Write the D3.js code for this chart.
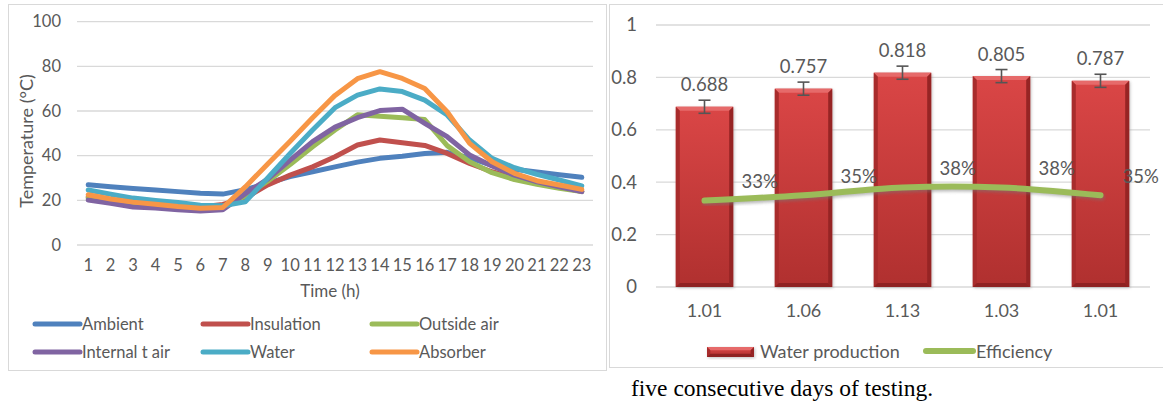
<!DOCTYPE html>
<html>
<head>
<meta charset="utf-8">
<script src="https://cdn.jsdelivr.net/npm/d3@7"></script>
<style>
  body { margin: 0; background: #fff; }
  svg { display: block; font-family: Lato, "Open Sans", sans-serif; }
</style>
</head>
<body>
<svg id="chart" width="1163" height="401"></svg>
<script>
// ---- left chart data: temperatures over the day
const hours = d3.range(1, 24);
const seriesNames = ["Ambient", "Insulation", "Outside air", "Internal t air", "Water", "Absorber"];
const seriesColors = ["#4F81BD", "#C0504D", "#9BBB59", "#8064A2", "#4BACC6", "#F79646"];
const ambient     = [27.0, 26.1, 25.3, 24.6, 23.9, 23.2, 22.8, 24.8, 27.7, 30.6, 32.8, 35.0, 37.1, 38.8, 39.7, 41.0, 41.5, 39.0, 35.6, 33.9, 32.7, 31.5, 30.3];
const insulation  = [21.5, 20.0, 18.8, 18.0, 17.4, 17.0, 18.2, 21.0, 26.9, 31.3, 35.0, 39.5, 44.8, 47.0, 45.8, 44.6, 41.0, 36.5, 32.8, 30.0, 27.8, 25.9, 24.0];
const outsideAir  = [21.0, 19.5, 18.0, 17.4, 16.6, 16.0, 16.6, 22.0, 28.6, 36.0, 44.0, 51.5, 58.3, 57.7, 57.0, 56.2, 44.5, 37.3, 32.4, 29.3, 27.2, 25.4, 23.9];
const internalAir = [20.1, 18.7, 17.0, 16.6, 15.8, 15.2, 15.8, 23.0, 29.5, 38.0, 46.3, 52.8, 57.0, 60.2, 60.8, 54.5, 48.5, 40.3, 35.4, 31.3, 28.3, 26.1, 23.9];
const water       = [24.6, 22.7, 21.0, 19.9, 19.0, 17.8, 17.6, 19.3, 30.0, 41.0, 51.5, 61.5, 67.1, 69.9, 68.7, 64.9, 58.2, 47.0, 38.8, 34.6, 31.6, 29.1, 26.5];
const absorber    = [22.5, 20.6, 19.2, 18.2, 17.2, 16.5, 16.8, 26.0, 36.3, 46.5, 57.0, 67.0, 74.5, 77.6, 74.6, 70.1, 59.7, 45.5, 37.3, 32.1, 28.8, 26.9, 24.9];
const tempSeries = [ambient, insulation, outsideAir, internalAir, water, absorber];
const tempTicks = [0, 20, 40, 60, 80, 100];

// ---- right chart data: water production per day
const dayLabels = ["1.01", "1.06", "1.13", "1.03", "1.01"];
const production = [0.688, 0.757, 0.818, 0.805, 0.787];
const productionErr = [0.025, 0.025, 0.025, 0.025, 0.025];
const efficiency = [0.33, 0.35, 0.38, 0.38, 0.35];
const prodTicks = [0, 0.2, 0.4, 0.6, 0.8, 1];

const svg = d3.select("#chart");
const defs = svg.append("defs");
const gridColor = "#D9D9D9", textColor = "#595959";

// chart frames
svg.append("rect").attr("x", 8.5).attr("y", 4.5).attr("width", 598).attr("height", 366)
  .attr("fill", "none").attr("stroke", "#D9D9D9");
svg.append("rect").attr("x", 609.5).attr("y", 4.5).attr("width", 560).attr("height", 363)
  .attr("fill", "none").attr("stroke", "#D9D9D9");

// ================= left chart =================
const xL = d3.scaleBand().domain(hours).range([77, 593]);
const yL = d3.scaleLinear().domain([0, 100]).range([245, 21.7]);
const left = svg.append("g");

left.append("g").selectAll("line").data(tempTicks).join("line")
  .attr("x1", 77).attr("x2", 593)
  .attr("y1", d => yL(d)).attr("y2", d => yL(d))
  .attr("stroke", gridColor).attr("stroke-width", 1.3);

const yAxisL = left.append("g").attr("transform", "translate(61,0)")
  .call(d3.axisLeft(yL).tickValues(tempTicks).tickSize(0).tickPadding(0));
yAxisL.select(".domain").remove();
yAxisL.selectAll("text").attr("fill", textColor).attr("font-size", 16.5).attr("font-family", "Lato");

const xAxisL = left.append("g").attr("transform", "translate(0,259)")
  .call(d3.axisBottom(xL).tickSize(0).tickPadding(0));
xAxisL.select(".domain").remove();
xAxisL.selectAll("text").attr("fill", textColor).attr("font-size", 16.5).attr("font-family", "Lato");

left.append("text").attr("x", 330).attr("y", 297).attr("text-anchor", "middle")
  .attr("fill", textColor).attr("font-size", 17).text("Time (h)");
left.append("text").attr("transform", "translate(33,141) rotate(-90)").attr("text-anchor", "middle")
  .attr("fill", textColor).attr("font-size", 18).text("Temperature (°C)");

const lineL = d3.line().x((d, i) => xL(hours[i]) + xL.bandwidth() / 2).y(d => yL(d));
left.append("g").selectAll("path").data(tempSeries).join("path")
  .attr("d", lineL).attr("fill", "none")
  .attr("stroke", (d, i) => seriesColors[i]).attr("stroke-width", 5)
  .attr("stroke-linejoin", "round").attr("stroke-linecap", "round");

// legend
const legL = left.append("g").selectAll("g").data(seriesNames).join("g")
  .attr("transform", (d, i) => `translate(${[35, 203, 372][i % 3]},${i < 3 ? 324 : 352})`);
legL.append("line").attr("x1", 0).attr("x2", 45)
  .attr("stroke", (d, i) => seriesColors[i]).attr("stroke-width", 5).attr("stroke-linecap", "round");
legL.append("text").attr("x", 47).attr("y", 6).attr("fill", textColor).attr("font-size", 16.5).text(d => d);

// ================= right chart =================
const idx = d3.range(dayLabels.length);
const xR = d3.scaleBand().domain(idx).range([655, 1150]).paddingInner(0.42).paddingOuter(0.21);
const yR = d3.scaleLinear().domain([0, 1]).range([287, 25]);
const right = svg.append("g");

right.append("g").selectAll("line").data(prodTicks).join("line")
  .attr("x1", 656).attr("x2", 1150)
  .attr("y1", d => yR(d)).attr("y2", d => yR(d))
  .attr("stroke", gridColor).attr("stroke-width", 1.3);

const yAxisR = right.append("g").attr("transform", "translate(637,0)")
  .call(d3.axisLeft(yR).tickValues(prodTicks).tickFormat(d3.format("~g")).tickSize(0).tickPadding(0));
yAxisR.select(".domain").remove();
yAxisR.selectAll("text").attr("fill", textColor).attr("font-size", 18.5).attr("font-family", "Lato");

const xAxisR = right.append("g").attr("transform", "translate(0,304)")
  .call(d3.axisBottom(xR).tickFormat(i => dayLabels[i]).tickSize(0).tickPadding(0));
xAxisR.select(".domain").remove();
xAxisR.selectAll("text").attr("fill", textColor).attr("font-size", 18).attr("font-family", "Lato");

// bar shading
const grad = defs.append("linearGradient").attr("id", "barGrad").attr("x1", 0).attr("x2", 0).attr("y1", 0).attr("y2", 1);
grad.append("stop").attr("offset", "0%").attr("stop-color", "#DA4646");
grad.append("stop").attr("offset", "100%").attr("stop-color", "#B0302F");
const blur = defs.append("filter").attr("id", "shadow").attr("x", "-20%").attr("y", "-20%").attr("width", "140%").attr("height", "140%");
blur.append("feGaussianBlur").attr("stdDeviation", 1.5);

function drawBar(g, x, y, w, h) {
  g.append("rect").attr("x", x + 1).attr("y", y + 1).attr("width", w).attr("height", h)
    .attr("fill", "#999").attr("opacity", 0.6).attr("filter", "url(#shadow)");
  g.append("rect").attr("x", x).attr("y", y).attr("width", w).attr("height", h).attr("fill", "url(#barGrad)");
  const b = Math.min(4, h / 3);
  g.append("path").attr("d", `M${x},${y}L${x + w},${y}L${x + w - b},${y + b}L${x + b},${y + b}Z`).attr("fill", "#E66A6A");
  g.append("path").attr("d", `M${x},${y}L${x + b},${y + b}L${x + b},${y + h - b}L${x},${y + h}Z`).attr("fill", "#A82C2C");
  g.append("path").attr("d", `M${x + w},${y}L${x + w - b},${y + b}L${x + w - b},${y + h - b}L${x + w},${y + h}Z`).attr("fill", "#962424");
  g.append("path").attr("d", `M${x},${y + h}L${x + b},${y + h - b}L${x + w - b},${y + h - b}L${x + w},${y + h}Z`).attr("fill", "#8E2222");
}

const bars = right.append("g");
production.forEach((v, i) => {
  drawBar(bars, xR(i), yR(v), xR.bandwidth(), yR(0) - yR(v));
});

// error bars
const errG = right.append("g").attr("stroke", "#555").attr("stroke-width", 1.6);
production.forEach((v, i) => {
  const cx = xR(i) + xR.bandwidth() / 2;
  const y1 = yR(v + productionErr[i]), y2 = yR(v - productionErr[i]);
  errG.append("line").attr("x1", cx).attr("x2", cx).attr("y1", y1).attr("y2", y2);
  errG.append("line").attr("x1", cx - 6).attr("x2", cx + 6).attr("y1", y1).attr("y2", y1);
  errG.append("line").attr("x1", cx - 6).attr("x2", cx + 6).attr("y1", y2).attr("y2", y2);
});

right.append("g").selectAll("text").data(production).join("text")
  .attr("x", (d, i) => xR(i) + xR.bandwidth() / 2)
  .attr("y", (d, i) => yR(d + productionErr[i]) - 9)
  .attr("text-anchor", "middle").attr("fill", textColor).attr("font-size", 18.5)
  .text(d => d3.format(".3f")(d));

// efficiency line
const lineR = d3.line().curve(d3.curveCatmullRom.alpha(0.5))
  .x((d, i) => xR(i) + xR.bandwidth() / 2).y(d => yR(d));
right.append("path").datum(efficiency).attr("d", lineR).attr("fill", "none")
  .attr("stroke", "#777").attr("stroke-opacity", 0.5).attr("stroke-width", 6).attr("stroke-linecap", "round")
  .attr("transform", "translate(1,2)").attr("filter", "url(#shadow)");
right.append("path").datum(efficiency).attr("d", lineR).attr("fill", "none")
  .attr("stroke", "#9BBB59").attr("stroke-width", 6).attr("stroke-linecap", "round");

right.append("g").selectAll("text").data(efficiency).join("text")
  .attr("x", (d, i) => i === efficiency.length - 1 ? xR(i) + xR.bandwidth() / 2 + 22 : xR(i) + xR.bandwidth() / 2 + 37)
  .attr("y", d => yR(d) - 12.5)
  .attr("fill", textColor).attr("font-size", 18.5)
  .text(d => d3.format(".0%")(d));

// legend
const legR = right.append("g");
drawBar(legR, 707, 347, 47, 10);
legR.append("text").attr("x", 760).attr("y", 358).attr("fill", textColor).attr("font-size", 18).text("Water production");
legR.append("line").attr("x1", 926).attr("x2", 973).attr("y1", 351).attr("y2", 351)
  .attr("stroke", "#9BBB59").attr("stroke-width", 6).attr("stroke-linecap", "round");
legR.append("text").attr("x", 976).attr("y", 358).attr("fill", textColor).attr("font-size", 18).text("Efficiency");

// caption under the right chart
svg.append("text").attr("x", 631).attr("y", 396)
  .attr("font-family", "Liberation Serif, serif").attr("font-size", 23.5).attr("fill", "#000")
  .text("five consecutive days of testing.");
</script>
</body>
</html>
